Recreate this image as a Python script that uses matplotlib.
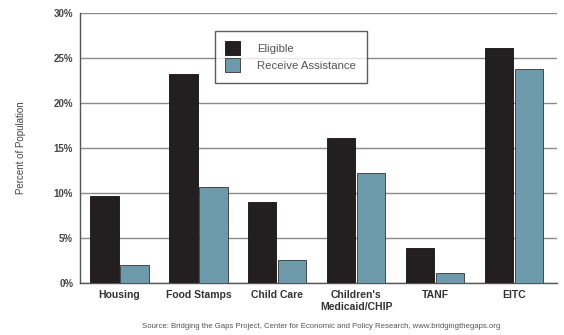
import numpy as np
import matplotlib.pyplot as plt

plt.rcParams["font.family"] = ["Liberation Sans", "DejaVu Sans"]

categories = ["Housing", "Food Stamps", "Child Care", "Children's\nMedicaid/CHIP", "TANF", "EITC"]
eligible = [9.7, 23.2, 9.0, 16.1, 3.9, 26.1]
receive = [2.0, 10.7, 2.55, 12.25, 1.1, 23.8]
yticks = [0, 5, 10, 15, 20, 25, 30]

fig = plt.figure(figsize=(5.64, 3.35), dpi=100)
ax = fig.add_axes([0.142, 0.155, 0.846, 0.806])

x = np.arange(len(categories))
w = 0.36
ax.bar(x - w / 2 - 0.01, eligible, w, color="#231f20", edgecolor="#111111",
       linewidth=0.6, label="Eligible", zorder=3)
ax.bar(x + w / 2 + 0.01, receive, w, color="#6e9bab", edgecolor="#333333",
       linewidth=0.6, label="Receive Assistance", zorder=3)

ax.set_xlim(-0.5, 5.55)
ax.set_ylim(0, 30)
ax.set_yticks(yticks)
ax.set_yticklabels([f"{t}%" for t in yticks], fontsize=7, fontweight="bold", color="#444444")
ax.set_xticks(x)
ax.set_xticklabels(categories, fontsize=7.5, fontweight="bold", color="#333333")
ax.tick_params(length=0, pad=5)
ax.yaxis.grid(True, color="#8a8a8a", linewidth=1, zorder=0)

for s in ["top", "right"]:
    ax.spines[s].set_visible(False)
for s in ["left", "bottom"]:
    ax.spines[s].set_color("#555555")
    ax.spines[s].set_linewidth(1)

ax.set_ylabel("Percent of Population", fontsize=7, color="#444444", labelpad=20)

leg = ax.legend(loc="upper left", bbox_to_anchor=(0.282, 0.935), fontsize=8.2,
                frameon=True, fancybox=False, edgecolor="#333333",
                handlelength=1.3, handleheight=1.45, borderpad=0.95,
                labelspacing=0.3, handletextpad=1.5, borderaxespad=0)
leg.get_frame().set_linewidth(1)
for t in leg.get_texts():
    t.set_color("#555555")

fig.text(0.57, 0.02, "Source: Bridging the Gaps Project, Center for Economic and Policy Research, www.bridgingthegaps.org",
         ha="center", fontsize=5.6, color="#555555")

fig.savefig("out.png", dpi=100)
